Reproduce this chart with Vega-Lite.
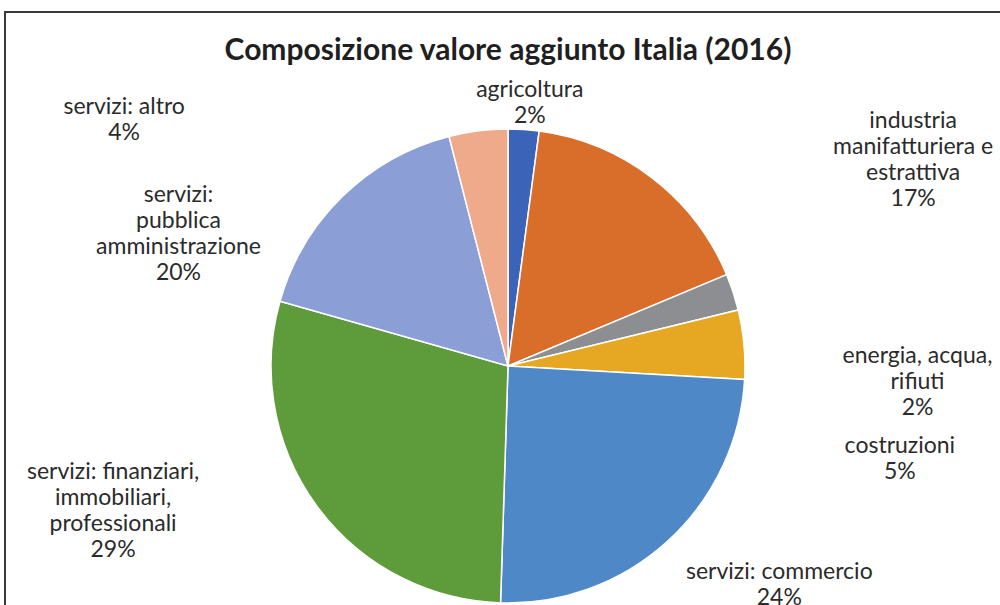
{
  "$schema": "https://vega.github.io/schema/vega-lite/v6.json",
  "autosize": {"type": "none"},
  "padding": {"left": 5, "top": 12, "right": 0, "bottom": 0},
  "width": 1006,
  "height": 708,
  "background": "white",
  "view": {"stroke": "#3a3a3a", "strokeWidth": 2},
  "title": {
    "text": "Composizione valore aggiunto Italia (2016)",
    "font": "Lato",
    "fontSize": 30,
    "fontWeight": "bold",
    "color": "#1f1f1f",
    "anchor": "middle",
    "offset": -54
  },
  "config": {
    "view": {"stroke": "#3a3a3a", "strokeWidth": 2},
    "text": {"font": "Lato", "fontSize": 23, "lineHeight": 26, "color": "#2b2b2b", "lineBreak": "\n", "align": "center", "baseline": "middle"}
  },
  "data": {
    "values": [
      {"settore": "agricoltura", "valore": 2.1, "quota": 0.02, "etichetta": "agricoltura"},
      {"settore": "industria manifatturiera e estrattiva", "valore": 16.6, "quota": 0.17, "etichetta": "industria\nmanifatturiera e\nestrattiva"},
      {"settore": "energia, acqua, rifiuti", "valore": 2.5, "quota": 0.02, "etichetta": "energia, acqua,\nrifiuti"},
      {"settore": "costruzioni", "valore": 4.7, "quota": 0.05, "etichetta": "costruzioni"},
      {"settore": "servizi: commercio", "valore": 24.6, "quota": 0.24, "etichetta": "servizi: commercio"},
      {"settore": "servizi: finanziari, immobiliari, professionali", "valore": 28.9, "quota": 0.29, "etichetta": "servizi: finanziari,\nimmobiliari,\nprofessionali"},
      {"settore": "servizi: pubblica amministrazione", "valore": 16.6, "quota": 0.20, "etichetta": "servizi:\npubblica\namministrazione"},
      {"settore": "servizi: altro", "valore": 4.0, "quota": 0.04, "etichetta": "servizi: altro"}
    ]
  },
  "transform": [
    {"window": [{"op": "row_number", "as": "ordine"}]},
    {"stack": "valore", "groupby": [], "sort": [{"field": "ordine", "order": "ascending"}], "as": ["v0", "v1"]},
    {"calculate": "(datum.v0 + datum.v1) / 2", "as": "vmid"},
    {"calculate": "datum.etichetta + '\\n' + format(datum.quota, '.0%')", "as": "testo"}
  ],
  "layer": [
    {
      "mark": {"type": "arc", "outerRadius": 237, "stroke": "white", "strokeWidth": 1.5},
      "encoding": {
        "theta": {"field": "v0", "type": "quantitative", "stack": null, "scale": {"domain": [0, 100]}},
        "theta2": {"field": "v1"},
        "color": {
          "field": "settore",
          "type": "nominal",
          "legend": null,
          "scale": {
            "domain": ["agricoltura", "industria manifatturiera e estrattiva", "energia, acqua, rifiuti", "costruzioni", "servizi: commercio", "servizi: finanziari, immobiliari, professionali", "servizi: pubblica amministrazione", "servizi: altro"],
            "range": ["#3B64B8", "#D96D2A", "#8C8E92", "#E6A823", "#4E88C7", "#5E9C3B", "#8B9FD6", "#EFA98B"]
          }
        }
      }
    },
    {
      "transform": [{"filter": "datum.settore == 'agricoltura'"}],
      "mark": {"type": "text", "radius": 270, "dx": 4, "dy": -7},
      "encoding": {"theta": {"field": "vmid", "type": "quantitative", "stack": null}, "text": {"field": "testo", "type": "nominal"}}
    },
    {
      "transform": [{"filter": "datum.settore == 'industria manifatturiera e estrattiva'"}],
      "mark": {"type": "text", "radius": 270, "dx": 241, "dy": -31},
      "encoding": {"theta": {"field": "vmid", "type": "quantitative", "stack": null}, "text": {"field": "testo", "type": "nominal"}}
    },
    {
      "transform": [{"filter": "datum.settore == 'energia, acqua, rifiuti'"}],
      "mark": {"type": "text", "radius": 270, "dx": 153, "dy": 74},
      "encoding": {"theta": {"field": "vmid", "type": "quantitative", "stack": null}, "text": {"field": "testo", "type": "nominal"}}
    },
    {
      "transform": [{"filter": "datum.settore == 'costruzioni'"}],
      "mark": {"type": "text", "radius": 270, "dx": 123, "dy": 105},
      "encoding": {"theta": {"field": "vmid", "type": "quantitative", "stack": null}, "text": {"field": "testo", "type": "nominal"}}
    },
    {
      "transform": [{"filter": "datum.settore == 'servizi: commercio'"}],
      "mark": {"type": "text", "radius": 270, "dx": 89, "dy": 7},
      "encoding": {"theta": {"field": "vmid", "type": "quantitative", "stack": null}, "text": {"field": "testo", "type": "nominal"}}
    },
    {
      "transform": [{"filter": "datum.settore == 'servizi: finanziari, immobiliari, professionali'"}],
      "mark": {"type": "text", "radius": 270, "dx": -177, "dy": -53},
      "encoding": {"theta": {"field": "vmid", "type": "quantitative", "stack": null}, "text": {"field": "testo", "type": "nominal"}}
    },
    {
      "transform": [{"filter": "datum.settore == 'servizi: pubblica amministrazione'"}],
      "mark": {"type": "text", "radius": 270, "dx": -141, "dy": 22},
      "encoding": {"theta": {"field": "vmid", "type": "quantitative", "stack": null}, "text": {"field": "testo", "type": "nominal"}}
    },
    {
      "transform": [{"filter": "datum.settore == 'servizi: altro'"}],
      "mark": {"type": "text", "radius": 270, "dx": -350, "dy": 9},
      "encoding": {"theta": {"field": "vmid", "type": "quantitative", "stack": null}, "text": {"field": "testo", "type": "nominal"}}
    }
  ]
}
